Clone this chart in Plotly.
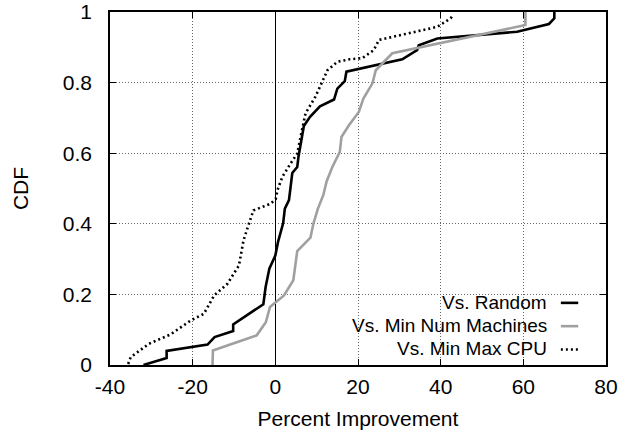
import plotly.graph_objects as go

# ---- data ----
random_x = [-31.9, -26.3, -26.3, -16.4, -14.7, -10.2, -10.2, -7.6, -2.9, -2.35, -1.45, 0.0, 0.64, 1.9, 2.3,
            3.3, 3.9, 4.1, 5.3, 5.6, 6.9, 8.4, 10.8, 14.2, 15.0, 16.8, 17.2, 30.7, 34.3, 34.7, 39.2,
            58.5, 66.2, 67.5, 67.5]
random_y = [0.0, 0.02, 0.04, 0.058, 0.079, 0.096, 0.115, 0.136, 0.172, 0.221, 0.273, 0.31, 0.348, 0.402, 0.443,
            0.467, 0.523, 0.544, 0.561, 0.59, 0.677, 0.703, 0.733, 0.752, 0.783, 0.804, 0.831, 0.866, 0.892, 0.906, 0.925,
            0.944, 0.966, 0.982, 1.0]

minnum_x = [-15.2, -15.1, -4.5, -2.3, -1.3, 2.1, 4.35, 5.3, 8.5, 9.2, 10.3, 11.6, 12.4, 13.8, 15.6, 16.0,
            17.8, 20.2, 21.3, 23.5, 24.3, 28.3, 60.5, 60.5]
minnum_y = [0.0, 0.041, 0.084, 0.121, 0.164, 0.197, 0.24, 0.323, 0.361, 0.40, 0.443, 0.481, 0.52, 0.561, 0.604, 0.646,
            0.679, 0.717, 0.755, 0.798, 0.835, 0.883, 0.963, 1.0]

minmax_x = [-35.6, -35.0, -30.6, -25.3, -20.5, -17.3, -14.8, -11.6, -8.8, -7.7, -6.4, -5.3, -1.1, 0.1, 0.5, 1.3,
            1.7, 3.7, 5.3, 6.1, 7.3, 9.7, 12.6, 15.0, 18.0, 21.0, 23.8, 25.1, 39.2, 42.4, 43.0]
minmax_y = [0.003, 0.022, 0.06, 0.087, 0.126, 0.145, 0.197, 0.23, 0.282, 0.353, 0.40, 0.438, 0.457, 0.471, 0.495, 0.523,
            0.533, 0.571, 0.599, 0.646, 0.713, 0.76, 0.835, 0.859, 0.866, 0.869, 0.892, 0.921, 0.958, 0.982, 0.991]

series_names = ["Vs. Random", "Vs. Min Num Machines", "Vs. Min Max CPU"]
x_ticks = [-40, -20, 0, 20, 40, 60, 80]
y_ticks = [0, 0.2, 0.4, 0.6, 0.8, 1]
y_tick_labels = ["0", "0.2", "0.4", "0.6", "0.8", "1"]

FONT = "Liberation Sans, Arial, Helvetica, sans-serif"
FS = 21
LEG_FS = 19

styles = [
    dict(color="black", width=2.6, dash="solid"),
    dict(color="#a0a0a0", width=2.6, dash="solid"),
    dict(color="black", width=2.6, dash="2px,3px"),
]

fig = go.Figure()
for name, xs, ys, st in zip(series_names, [random_x, minnum_x, minmax_x],
                             [random_y, minnum_y, minmax_y], styles):
    fig.add_trace(go.Scatter(x=xs, y=ys, mode="lines", name=name, line=st, showlegend=False,
                             hoverinfo="skip"))

# gnuplot-style legend: right-aligned text, sample line to the right
leg_y_text = [0.178, 0.112, 0.048]
leg_y_line = [0.176, 0.110, 0.044]
for name, yt, yl, st in zip(series_names, leg_y_text, leg_y_line, styles):
    fig.add_annotation(x=0.884, y=yt, xref="paper", yref="paper", text=name, showarrow=False,
                       xanchor="right", yanchor="middle", borderpad=0,
                       font=dict(family=FONT, size=LEG_FS, color="black"))
    fig.add_shape(type="line", xref="paper", yref="paper", x0=0.909, x1=0.944, y0=yl, y1=yl,
                  line=dict(color=st["color"], width=st["width"], dash=st["dash"]))

axis_common = dict(
    showline=True, linecolor="black", linewidth=1.5, mirror="ticks",
    ticks="inside", ticklen=6, tickwidth=1, tickcolor="black",
    showgrid=True, gridcolor="#666666", gridwidth=1, griddash="1px,2px",
    tickfont=dict(family=FONT, size=FS, color="black"),
    automargin=False,
)

fig.update_xaxes(range=[-40, 80], tickvals=x_ticks, ticktext=[str(v) for v in x_ticks],
                 zeroline=True, zerolinecolor="black", zerolinewidth=1, ticklabelstandoff=2,
                 title=dict(text="Percent Improvement", font=dict(family=FONT, size=FS, color="black"), standoff=14),
                 **axis_common)
fig.update_yaxes(range=[0, 1], tickvals=y_ticks, ticktext=y_tick_labels, zeroline=False, ticklabelstandoff=12,
                 title=dict(text="CDF", font=dict(family=FONT, size=FS, color="black"), standoff=28),
                 **axis_common)

fig.update_layout(
    width=631, height=432,
    margin=dict(l=110, r=25, t=12, b=67),
    plot_bgcolor="white", paper_bgcolor="white",
    font=dict(family=FONT, size=FS, color="black"),
)

fig.write_html("out.html", config={"displayModeBar": False},
               post_script="document.body.style.margin='0';document.body.style.overflow='hidden';")
